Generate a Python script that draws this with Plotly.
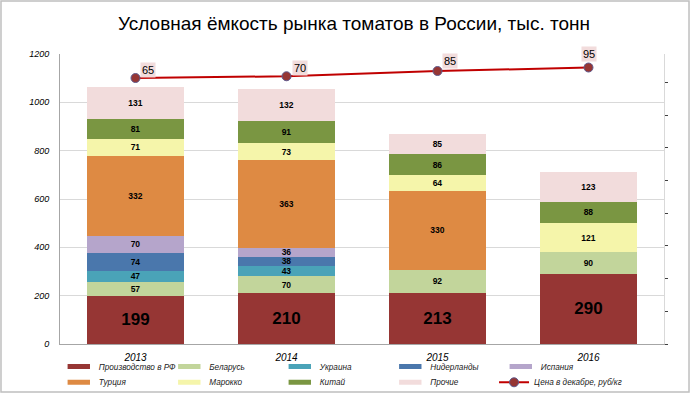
import plotly.graph_objects as go

years = ["2013", "2014", "2015", "2016"]
production_rf = [199, 210, 213, 290]
belarus = [57, 70, 92, 90]
ukraine = [47, 43, 0, 0]
netherlands = [74, 38, 0, 0]
spain = [70, 36, 0, 0]
turkey = [332, 363, 330, 0]
morocco = [71, 73, 64, 121]
china = [81, 91, 86, 88]
other = [131, 132, 85, 123]
price_dec = [65, 70, 85, 95]

# (name, values, colour, label size, legend row)
series = [
    ("Производство в РФ", production_rf, "#963634", 17, "legend"),
    ("Беларусь", belarus, "#C2D59B", 8.5, "legend"),
    ("Украина", ukraine, "#4AA3B8", 8.5, "legend"),
    ("Нидерланды", netherlands, "#4A77AC", 8.5, "legend"),
    ("Испания", spain, "#B5A5CB", 8.5, "legend"),
    ("Турция", turkey, "#DE8A43", 8.5, "legend2"),
    ("Марокко", morocco, "#F5F5AA", 8.5, "legend2"),
    ("Китай", china, "#7A9642", 8.5, "legend2"),
    ("Прочие", other, "#F2DCDC", 8.5, "legend2"),
]

fig = go.Figure()
for name, vals, color, fs, lg in series:
    fig.add_trace(go.Bar(
        x=years, y=vals, name=name, showlegend=False,
        marker=dict(color=color, line=dict(width=0)),
        text=[str(v) if v else "" for v in vals],
        textposition="inside", insidetextanchor="middle", textangle=0,
        constraintext="none",
        textfont=dict(family="Liberation Sans", size=fs, color="black", weight="bold"),
        hoverinfo="skip",
    ))
    # legend entry drawn as a thin wide bar, like the original
    fig.add_trace(go.Scatter(
        x=[None], y=[None], name=name, mode="markers", legend=lg,
        marker=dict(symbol="line-ew", size=18, color=color,
                    line=dict(color=color, width=5)),
        hoverinfo="skip",
    ))

fig.add_trace(go.Scatter(
    x=years, y=price_dec, name="Цена в декабре, руб/кг", yaxis="y2", legend="legend3",
    mode="lines+markers",
    line=dict(color="#C00000", width=2),
    marker=dict(size=9, color="#963634", line=dict(color="#5E5A8E", width=1)),
    hoverinfo="skip",
))

label_shift = [(12, 8), (13, 8), (12, 10), (0, 14)]
for i, (p, (dx, dy)) in enumerate(zip(price_dec, label_shift)):
    fig.add_annotation(
        x=i, y=p, xref="x", yref="y2", text=str(p), showarrow=False,
        xshift=dx, yshift=dy, bgcolor="#F2DCDC",
        font=dict(family="Liberation Sans", size=11, color="black"),
        borderpad=1,
    )

# outer frame
fig.add_shape(type="rect", xref="paper", yref="paper",
              x0=-0.0977, x1=1.0414, y0=-0.1655, y1=1.1828,
              line=dict(color="#BFBFBF", width=1.5), fillcolor="rgba(0,0,0,0)")

legend_font = dict(family="Liberation Sans", size=8.2, color="#222", style="italic")
legend_common = dict(orientation="h", xanchor="left", yanchor="middle",
                     traceorder="normal", itemwidth=30, tracegroupgap=0,
                     font=legend_font, bgcolor="rgba(0,0,0,0)")

fig.update_layout(
    width=692, height=395,
    margin=dict(l=60, r=28, t=54, b=51, autoexpand=False),
    paper_bgcolor="white", plot_bgcolor="white",
    barmode="stack", bargap=0.355,
    title=dict(text="Условная ёмкость рынка томатов в России, тыс. тонн",
               x=0.5116, xanchor="center", y=0.94, yanchor="middle",
               font=dict(family="Liberation Sans", size=19, color="black")),
    showlegend=True,
    legend=dict(x=-0.002, y=-0.078, entrywidth=65.5, entrywidthmode="pixels", **legend_common),
    legend2=dict(x=-0.002, y=-0.132, entrywidth=65.5, entrywidthmode="pixels", **legend_common),
    legend3=dict(x=0.7186, y=-0.132, **legend_common),
    xaxis=dict(type="category", showgrid=False, showline=True, linecolor="#A6A6A6",
               ticks="", ticklabelstandoff=4,
               tickfont=dict(family="Liberation Sans", size=10, color="black", style="italic")),
    yaxis=dict(range=[0, 1200], dtick=200, showgrid=True, gridcolor="#D9D9D9",
               showline=True, linecolor="#A6A6A6", ticks="", zeroline=False,
               tickfont=dict(family="Liberation Sans", size=9, color="black", style="italic"),
               ticklabelstandoff=8),
    yaxis2=dict(overlaying="y", side="right", range=[-695, 133.6], showgrid=False,
                zeroline=False, showline=True, linecolor="#D9D9D9",
                tick0=-695, dtick=93.4, ticks="outside", ticklen=3, tickcolor="#404040",
                showticklabels=False),
)

fig.write_html("out.html", config={"displayModeBar": False},
               post_script="document.body.style.margin='0';document.body.style.overflow='hidden';")
